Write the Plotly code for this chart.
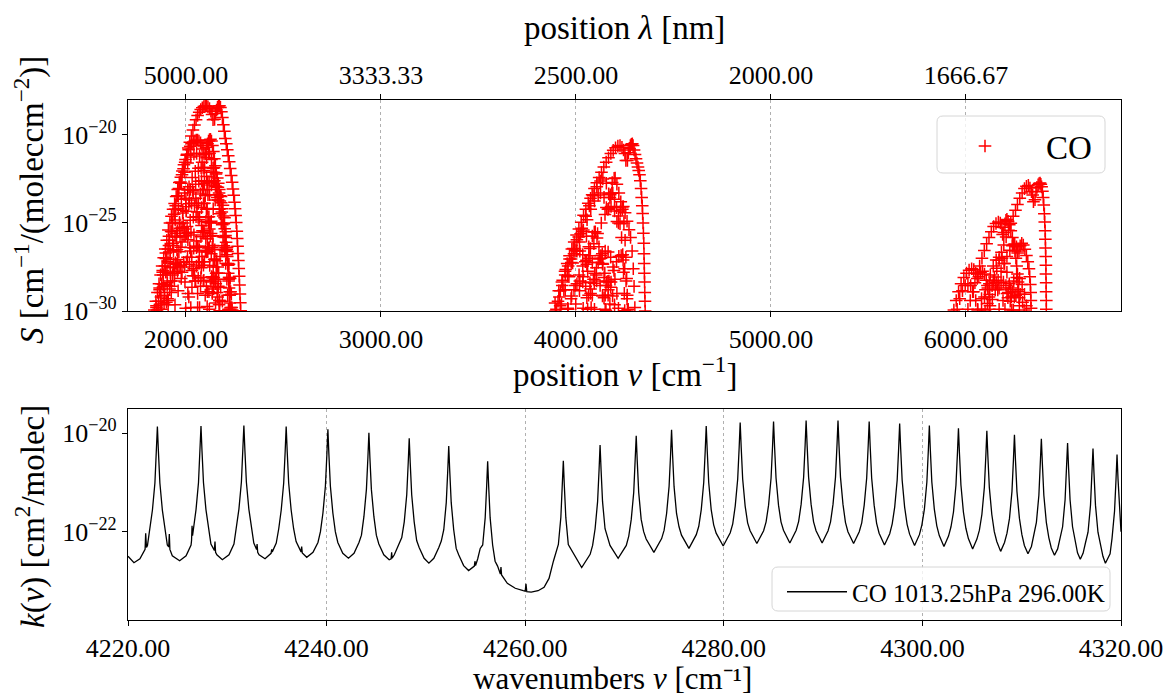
import plotly.graph_objects as go

# ---------------- DATA ----------------
# Top panel: line intensities, (position nu [cm-1], log10 S) pairs, one list per band envelope
r1_b1 = [(1852,-29.95),(1860,-29.45),(1868,-28.95),(1876,-28.45),(1884,-27.95),(1892,-27.45),(1900,-26.97),(1908,-26.48),(1916,-25.98),(1924,-25.49),(1932,-25.0),(1940,-24.5),(1948,-24.03),(1956,-23.45),(1964,-23.05),(1972,-22.67),(1980,-22.27),(1988,-21.92),(1996,-21.55),(2004,-21.15),(2012,-20.75),(2020,-20.42),(2028,-20.07),(2036,-19.73),(2044,-19.44),(2052,-19.14),(2060,-18.9),(2068,-18.71),(2076,-18.56),(2084,-18.46),(2092,-18.39),(2099,-18.36),(2106,-18.36),(2113,-18.41),(2121,-18.51),(2128,-18.66),(2134,-18.85),(2139,-19.14),
         (2147,-19.12),(2152,-18.79),(2157,-18.59),(2162,-18.44),(2167,-18.36),(2172,-18.34),(2177,-18.44),(2182,-18.69),(2187,-19.02),(2192,-19.42),(2197,-19.8),(2202,-20.2),(2207,-20.5),(2212,-20.84),(2217,-21.18),(2222,-21.53),(2227,-21.91),(2232,-22.3),(2237,-22.69),(2241,-23.08),(2245,-23.43),(2249,-23.82),(2252,-24.2),(2255,-24.58),(2258,-24.98),(2261,-25.47),(2263,-25.88),(2265,-26.33),(2267,-26.73),(2269,-27.13),(2271,-27.58),(2273,-28.03),(2275,-28.53),(2277,-29.03),(2279,-29.53),(2281,-29.98)]
r1_b2 = [(1838,-29.95),(1846,-29.45),(1854,-28.95),(1862,-28.45),(1870,-27.95),(1878,-27.45),(1886,-26.97),(1894,-26.48),(1902,-25.99),(1910,-25.4),(1918,-25.0),(1926,-24.62),(1934,-24.23),(1942,-23.9),(1950,-23.5),(1958,-23.1),(1966,-22.7),(1974,-22.4),(1982,-22.05),(1990,-21.7),(1998,-21.4),(2006,-21.1),(2014,-20.85),(2022,-20.65),(2030,-20.5),(2038,-20.4),(2046,-20.33),(2053,-20.3),(2060,-20.3),(2067,-20.35),(2075,-20.45),(2082,-20.6),(2088,-20.8),(2093,-21.1),
         (2101,-21.05),(2106,-20.7),(2111,-20.5),(2116,-20.35),(2121,-20.27),(2126,-20.25),(2131,-20.35),(2136,-20.6),(2141,-20.95),(2146,-21.35),(2151,-21.75),(2156,-22.15),(2161,-22.45),(2166,-22.75),(2171,-23.1),(2176,-23.45),(2181,-23.85),(2186,-24.2),(2191,-24.6),(2195,-25.0),(2199,-25.33),(2203,-25.72),(2206,-26.1),(2209,-26.5),(2212,-26.9),(2215,-27.4),(2217,-27.85),(2219,-28.3),(2221,-28.7),(2223,-29.1),(2225,-29.55),(2227,-29.98)]
r1_b3 = [(1849,-29.7),(1865,-28.7),(1881,-27.7),(1897,-26.7),(1913,-25.75),(1929,-24.97),(1945,-24.23),(1961,-23.45),(1977,-22.75),(1993,-22.12),(2009,-21.6),(2025,-21.25),(2041,-21.08),(2055,-21.05),(2070,-21.2),(2083,-21.55),(2088,-21.85),
         (2096,-21.85),(2106,-21.3),(2116,-21.07),(2121,-21.05),(2131,-21.4),(2141,-22.12),(2151,-22.9),(2161,-23.55),(2171,-24.23),(2181,-25.0),(2190,-25.78),(2198,-26.52),(2204,-27.3),(2210,-28.2),(2214,-29.1),(2218,-29.9)]
r1_b4 = [(1888,-29.55),(1904,-28.55),(1920,-27.55),(1936,-26.58),(1952,-25.8),(1968,-25.05),(1984,-24.28),(2000,-23.6),(2016,-22.95),(2032,-22.42),(2048,-22.07),(2064,-21.9),(2078,-21.87),(2093,-22.02),(2106,-22.37),(2111,-22.67),
         (2119,-22.67),(2129,-22.12),(2139,-21.89),(2144,-21.87),(2154,-22.22),(2164,-22.97),(2174,-23.75),(2184,-24.38),(2194,-25.05),(2204,-25.83),(2213,-26.62),(2221,-27.35),(2227,-28.15),(2233,-29.05),(2237,-29.95)]
r1_b5 = [(1906,-29.3),(1922,-28.3),(1938,-27.3),(1954,-26.52),(1970,-25.8),(1986,-25.0),(2002,-24.33),(2018,-23.7),(2034,-23.15),(2050,-22.8),(2066,-22.63),(2080,-22.6),(2095,-22.75),(2108,-23.1),(2113,-23.4),
         (2121,-23.4),(2131,-22.85),(2141,-22.62),(2146,-22.6),(2156,-22.95),(2166,-23.7),(2176,-24.48),(2186,-25.1),(2196,-25.8),(2206,-26.57),(2215,-27.35),(2223,-28.1),(2229,-28.9),(2235,-29.8)]
r1_b6 = [(1849,-29.8),(1865,-28.8),(1881,-27.8),(1897,-27.02),(1913,-26.28),(1929,-25.5),(1945,-24.83),(1961,-24.2),(1977,-23.65),(1993,-23.3),(2009,-23.13),(2023,-23.1),(2038,-23.25),(2051,-23.6),(2056,-23.9),
         (2064,-23.9),(2074,-23.35),(2084,-23.12),(2089,-23.1),(2099,-23.45),(2109,-24.18),(2119,-24.97),(2129,-25.6),(2139,-26.28),(2149,-27.05),(2158,-27.85),(2166,-28.6),(2172,-29.4)]
r1_b7 = [(1871,-29.6),(1887,-28.6),(1903,-27.8),(1919,-27.07),(1935,-26.28),(1951,-25.6),(1967,-24.97),(1983,-24.43),(1999,-24.08),(2015,-23.91),(2029,-23.88),(2044,-24.03),(2057,-24.38),(2062,-24.68),
         (2070,-24.68),(2080,-24.13),(2090,-23.9),(2095,-23.88),(2105,-24.23),(2115,-24.97),(2125,-25.75),(2135,-26.38),(2145,-27.07),(2155,-27.85),(2164,-28.65),(2172,-29.4)]
r1_b8 = [(1910,-29.4),(1926,-28.6),(1942,-27.85),(1958,-27.07),(1974,-26.38),(1990,-25.73),(2006,-25.2),(2022,-24.85),(2038,-24.68),(2052,-24.65),(2067,-24.8),(2080,-25.15),(2085,-25.45),
         (2093,-25.45),(2103,-24.9),(2113,-24.67),(2118,-24.65),(2128,-25.0),(2138,-25.73),(2148,-26.52),(2158,-27.15),(2168,-27.85),(2178,-28.65),(2187,-29.45)]
r1_b9 = [(1900,-29.5),(1916,-28.75),(1932,-27.95),(1948,-27.27),(1964,-26.63),(1980,-26.08),(1996,-25.73),(2012,-25.56),(2026,-25.53),(2041,-25.68),(2054,-26.03),(2059,-26.33),
         (2067,-26.33),(2077,-25.78),(2087,-25.55),(2092,-25.53),(2102,-25.88),(2112,-26.63),(2122,-27.42),(2132,-28.05),(2142,-28.75),(2152,-29.55)]
r1_b10 = [(1944,-29.65),(1960,-28.85),(1976,-28.15),(1992,-27.5),(2008,-26.95),(2024,-26.6),(2040,-26.43),(2054,-26.4),(2069,-26.55),(2082,-26.9),(2087,-27.2),
          (2095,-27.2),(2105,-26.65),(2115,-26.42),(2120,-26.4),(2130,-26.75),(2140,-27.5),(2150,-28.3),(2160,-28.95),(2170,-29.65)]
r1_b11 = [(1909,-29.65),(1925,-28.95),(1941,-28.3),(1957,-27.75),(1973,-27.4),(1989,-27.23),(2003,-27.2),(2018,-27.35),(2031,-27.7),(2036,-28.0),
          (2044,-28.0),(2054,-27.45),(2064,-27.22),(2069,-27.2),(2079,-27.55),(2089,-28.3),(2099,-29.1),(2109,-29.75)]
r1_b12 = [(1999,-29.85),(2015,-29.2),(2031,-28.65),(2047,-28.3),(2063,-28.13),(2077,-28.1),(2092,-28.25),(2105,-28.6),(2110,-28.9),
          (2118,-28.9),(2128,-28.35),(2138,-28.12),(2143,-28.1),(2153,-28.45),(2163,-29.2),(2173,-29.98)]
r1_b13 = [(1860,-29.9),(1872,-29.2),(1884,-28.5),(1896,-27.8),(1908,-27.2),(1920,-26.65),(1932,-26.15),(1944,-25.75),(1956,-25.45),(1968,-25.3),(1980,-25.25),(1992,-25.35),(2002,-25.6),(2010,-25.95),(2020,-26.4),(2030,-26.95),(2040,-27.6),(2050,-28.3),(2060,-29.0),(2070,-29.8)]
r1_b14 = [(1875,-29.9),(1890,-29.1),(1905,-28.4),(1920,-27.85),(1935,-27.5),(1950,-27.35),(1965,-27.45),(1980,-27.8),(1995,-28.35),(2010,-29.0),(2025,-29.8)]
r1_b15 = [(2120,-29.9),(2135,-29.0),(2150,-28.2),(2163,-27.5),(2175,-26.9),(2185,-26.5),(2195,-26.3),(2203,-26.4),(2210,-26.8),(2216,-27.4),(2221,-28.1),(2225,-28.9),(2229,-29.8)]
r1_b16 = [(2060,-29.8),(2075,-28.6),(2090,-27.4),(2100,-26.6),(2110,-25.9),(2120,-25.35),(2130,-24.9),(2140,-24.2),(2150,-23.7),(2160,-23.4),(2170,-23.3),(2180,-23.5),(2190,-24.0),(2198,-24.7),(2205,-25.5),(2211,-26.4),(2216,-27.3),(2220,-28.2),(2224,-29.1),(2227,-29.9)]

r2_b1 = [(3895,-30.0),(3908,-29.45),(3920,-28.85),(3932,-28.25),(3944,-27.75),(3955,-27.3),(3967,-26.87),(3979,-26.48),(3991,-26.08),(4003,-25.69),(4015,-25.35),(4027,-24.96),(4039,-24.57),(4051,-24.23),(4063,-23.88),(4075,-23.6),(4083,-23.4),(4095,-23.05),(4107,-22.72),(4119,-22.42),(4131,-22.12),(4143,-21.82),(4155,-21.55),(4167,-21.3),(4179,-21.06),(4191,-20.88),(4203,-20.73),(4215,-20.64),(4226,-20.61),(4236,-20.71),(4244,-20.86),(4251,-21.06),(4256,-21.45),
         (4264,-21.45),(4269,-21.01),(4274,-20.76),(4279,-20.61),(4284,-20.53),(4289,-20.51),(4293,-20.61),(4298,-20.86),(4303,-21.11),(4308,-21.36),(4313,-21.6),(4318,-21.83),(4322,-22.02),(4326,-22.27),(4330,-22.6),(4334,-23.05),(4337,-23.55),(4340,-24.03),(4342,-24.47),(4344,-25.0),(4346,-25.58),(4348,-26.15),(4349,-26.75),(4350,-27.3),(4351,-27.85),(4352,-28.35),(4353,-28.95),(4354,-29.45),(4355,-30.0)]
r2_b2 = [(3919,-29.7),(3938,-28.8),(3957,-28.0),(3976,-27.25),(3995,-26.48),(4014,-25.8),(4030,-25.3),(4050,-24.62),(4069,-24.03),(4088,-23.45),(4107,-22.95),(4126,-22.62),(4138,-22.5),(4156,-22.75),(4168,-23.35),
         (4176,-23.4),(4186,-22.7),(4196,-22.47),(4201,-22.45),(4210,-22.8),(4220,-23.3),(4230,-23.8),(4238,-24.23),(4246,-25.0),(4252,-25.98),(4256,-26.95),(4260,-28.15),(4262,-29.3),(4264,-29.95)]
r2_b3 = [(3926,-29.6),(3945,-28.8),(3964,-28.05),(3983,-27.27),(4002,-26.58),(4018,-26.08),(4038,-25.4),(4057,-24.82),(4076,-24.23),(4095,-23.75),(4114,-23.42),(4126,-23.3),(4144,-23.55),(4156,-24.13),
         (4164,-24.23),(4174,-23.55),(4184,-23.32),(4189,-23.3),(4198,-23.65),(4208,-24.13),(4218,-24.6),(4226,-25.05),(4234,-25.83),(4240,-26.8),(4244,-27.8),(4248,-29.0),(4250,-29.98)]
r2_b4 = [(3999,-29.6),(4018,-28.85),(4037,-28.05),(4056,-27.35),(4072,-26.87),(4092,-26.18),(4111,-25.6),(4130,-25.0),(4149,-24.52),(4168,-24.19),(4180,-24.07),(4198,-24.32),(4210,-24.92),
         (4218,-25.0),(4228,-24.32),(4238,-24.09),(4243,-24.07),(4252,-24.42),(4262,-24.9),(4272,-25.38),(4280,-25.82),(4288,-26.6),(4294,-27.6),(4298,-28.6),(4302,-29.8)]
r2_b5 = [(3893,-29.55),(3912,-28.85),(3928,-28.35),(3948,-27.65),(3967,-27.05),(3986,-26.45),(4005,-25.95),(4024,-25.62),(4036,-25.5),(4054,-25.75),(4066,-26.35),
         (4074,-26.45),(4084,-25.75),(4094,-25.52),(4099,-25.5),(4108,-25.85),(4118,-26.35),(4128,-26.85),(4136,-27.3),(4144,-28.1),(4150,-29.1),(4154,-29.98)]
r2_b6 = [(3958,-29.85),(3978,-29.15),(3997,-28.55),(4016,-27.95),(4035,-27.45),(4054,-27.12),(4066,-27.0),(4084,-27.25),(4096,-27.85),
         (4104,-27.95),(4114,-27.25),(4124,-27.02),(4129,-27.0),(4138,-27.35),(4148,-27.85),(4158,-28.35),(4166,-28.8),(4174,-29.6)]
r2_b7 = [(4037,-29.85),(4056,-29.25),(4075,-28.75),(4094,-28.42),(4106,-28.3),(4124,-28.55),(4136,-29.15),
         (4144,-29.25),(4154,-28.55),(4164,-28.32),(4169,-28.3),(4178,-28.65),(4188,-29.15),(4198,-29.65)]
r2_b8 = [(3900,-29.9),(3915,-29.2),(3930,-28.55),(3945,-27.95),(3960,-27.45),(3975,-27.05),(3990,-26.75),(4005,-26.6),(4020,-26.6),(4035,-26.8),(4048,-27.2),(4060,-27.75),(4072,-28.4),(4084,-29.1),(4095,-29.9)]
r2_b9 = [(3960,-29.9),(3975,-29.3),(3990,-28.8),(4005,-28.45),(4020,-28.3),(4035,-28.35),(4050,-28.6),(4065,-29.1),(4078,-29.8)]
r2_b10 = [(4150,-29.9),(4165,-29.1),(4180,-28.35),(4195,-27.7),(4208,-27.2),(4220,-26.9),(4232,-26.85),(4242,-27.1),(4250,-27.6),(4257,-28.3),(4263,-29.1),(4268,-29.9)]
r2_b11 = [(4060,-29.9),(4075,-29.0),(4090,-28.2),(4105,-27.55),(4120,-27.05),(4135,-26.75),(4150,-26.6),(4165,-26.65),(4178,-26.95),(4190,-27.5),(4200,-28.2),(4210,-29.0),(4218,-29.85)]

r3_b1 = [(6098,-30.0),(6110,-29.57),(6122,-29.07),(6134,-28.57),(6146,-28.07),(6158,-27.57),(6170,-27.12),(6182,-26.67),(6194,-26.25),(6206,-25.8),(6218,-25.42),(6230,-25.02),(6242,-24.62),(6254,-24.28),(6264,-23.95),(6276,-23.6),(6288,-23.3),(6300,-23.05),(6310,-22.92),(6320,-22.87),(6328,-23.02),(6336,-23.22),(6342,-23.42),(6346,-23.8),
         (6354,-23.68),(6359,-23.23),(6364,-22.98),(6370,-22.83),(6375,-22.76),(6380,-22.73),(6384,-22.8),(6388,-22.95),(6392,-23.2),(6396,-23.55),(6399,-23.98),(6402,-24.48),(6404,-24.95),(6406,-25.45),(6407,-25.93),(6408,-26.43),(6409,-26.9),(6410,-27.4),(6410,-27.9),(6411,-28.4),(6411,-28.9),(6412,-29.4),(6412,-29.9)]
r3_b2 = [(6010,-29.9),(6022,-29.4),(6034,-28.9),(6046,-28.4),(6058,-27.9),(6070,-27.45),(6082,-27.0),(6094,-26.57),(6106,-26.18),(6118,-25.83),(6130,-25.5),(6142,-25.2),(6154,-25.03),(6166,-24.95),(6176,-25.0),(6184,-25.25),(6188,-25.65),
         (6194,-25.55),(6200,-25.05),(6205,-24.85),(6210,-24.8),(6216,-24.9),(6222,-25.1),(6230,-25.45),(6238,-25.83),(6245,-26.22),(6251,-26.6),(6256,-27.0),(6260,-27.45),(6264,-27.9),(6267,-28.35),(6270,-28.8),(6272,-29.25),(6274,-29.7)]
r3_b3 = [(6120,-29.9),(6135,-29.35),(6150,-28.8),(6165,-28.25),(6180,-27.75),(6195,-27.3),(6210,-26.9),(6225,-26.55),(6238,-26.3),(6250,-26.2),(6259,-26.35),(6265,-26.7),
         (6272,-26.6),(6278,-26.3),(6286,-26.15),(6294,-26.25),(6302,-26.5),(6310,-26.85),(6317,-27.2),(6323,-27.6),(6327,-28.05),(6330,-28.5),(6332,-28.95),(6333,-29.4),(6334,-29.85)]
r3_b4 = [(5938,-29.95),(5950,-29.4),(5962,-28.9),(5975,-28.45),(5989,-28.1),(6003,-27.85),(6016,-27.68),(6029,-27.6),(6040,-27.65),(6050,-27.85),(6058,-28.15),
         (6066,-28.05),(6075,-27.8),(6085,-27.75),(6095,-27.9),(6104,-28.25),(6112,-28.7),(6118,-29.2),(6123,-29.7)]
r3_b5 = [(6060,-29.9),(6080,-29.3),(6100,-28.8),(6120,-28.45),(6140,-28.3),(6155,-28.4),(6163,-28.8),
         (6170,-28.7),(6180,-28.4),(6192,-28.35),(6205,-28.55),(6217,-28.95),(6227,-29.45),(6235,-29.95)]
r3_b6 = [(6170,-29.9),(6190,-29.4),(6210,-29.0),(6228,-28.8),(6240,-28.9),(6248,-29.2),
         (6256,-29.1),(6266,-28.9),(6278,-29.05),(6290,-29.5),(6298,-29.95)]
r3_b7 = [(5955,-29.9),(5968,-29.3),(5982,-28.85),(5996,-28.55),(6010,-28.45),(6024,-28.55),(6038,-28.9),(6050,-29.4),(6060,-29.95)]
r3_b8 = [(6080,-29.9),(6095,-29.2),(6110,-28.55),(6125,-27.95),(6140,-27.45),(6155,-27.1),(6170,-26.95),(6185,-27.0),(6198,-27.3),(6210,-27.8),(6222,-28.45),(6233,-29.2),(6243,-29.95)]
r3_b9 = [(6200,-29.9),(6215,-29.25),(6230,-28.7),(6245,-28.3),(6260,-28.1),(6275,-28.15),(6288,-28.5),(6300,-29.05),(6310,-29.7)]

# Bottom panel: absorption cross section, (wavenumber nu [cm-1], log10 k) pairs
k_spec = [(4220.0,-22.50),(4220.6,-22.63),(4221.2,-22.55),(4221.6,-22.42),(4221.72,-22.36),(4221.78,-22.03),(4221.86,-22.32),
    (4221.96,-22.28),(4222.21,-21.94),(4222.46,-21.56),(4222.71,-21.01),(4222.86,-20.36),(4222.96,-19.86),(4223.06,-20.36),(4223.21,-21.01),(4223.46,-21.56),(4223.71,-21.94),(4223.96,-22.27),
    (4224.10,-22.31),(4224.16,-22.05),(4224.22,-22.36),(4224.46,-22.49),(4225.20,-22.59),
    (4225.85,-22.49),(4226.35,-22.27),(4226.40,-22.18),(4226.45,-21.88),(4226.50,-22.08),(4226.60,-21.93),(4226.85,-21.55),(4227.10,-21.00),(4227.25,-20.35),(4227.35,-19.85),(4227.45,-20.35),(4227.60,-21.00),(4227.85,-21.55),(4228.10,-21.93),(4228.35,-22.25),
    (4228.70,-22.38),(4228.76,-22.20),(4228.82,-22.42),(4228.95,-22.47),(4229.50,-22.57),
    (4230.17,-22.47),(4230.67,-22.25),(4230.92,-21.92),(4231.17,-21.54),(4231.42,-20.99),(4231.57,-20.34),(4231.67,-19.84),(4231.77,-20.34),(4231.92,-20.99),(4232.17,-21.54),(4232.42,-21.92),(4232.67,-22.23),
    (4232.95,-22.36),(4233.00,-22.25),(4233.06,-22.42),(4233.20,-22.47),(4233.80,-22.55),
    (4234.30,-22.47),(4234.41,-22.44),(4234.47,-22.36),(4234.53,-22.41),(4234.93,-22.23),(4235.18,-21.94),(4235.43,-21.56),(4235.68,-21.01),(4235.83,-20.36),(4235.93,-19.86),(4236.03,-20.36),(4236.18,-21.01),(4236.43,-21.56),(4236.68,-21.94),(4236.93,-22.20),
    (4237.30,-22.36),(4237.43,-22.41),(4237.49,-22.30),(4237.55,-22.43),(4238.00,-22.52),
    (4238.63,-22.42),(4239.13,-22.22),(4239.38,-22.00),(4239.63,-21.62),(4239.88,-21.07),(4240.03,-20.42),(4240.13,-19.92),(4240.23,-20.42),(4240.38,-21.07),(4240.63,-21.62),(4240.88,-22.00),(4241.13,-22.22),(4241.63,-22.44),(4242.20,-22.54),
    (4242.76,-22.44),(4243.26,-22.22),(4243.51,-22.07),(4243.76,-21.69),(4244.01,-21.14),(4244.16,-20.49),(4244.26,-19.99),(4244.36,-20.49),(4244.51,-21.14),(4244.76,-21.69),(4245.01,-22.07),(4245.26,-22.25),(4245.76,-22.47),(4246.30,-22.57),
    (4246.50,-22.55),(4246.55,-22.42),(4246.60,-22.54),(4246.82,-22.47),(4247.32,-22.25),(4247.57,-22.12),(4247.82,-21.80),(4248.07,-21.25),(4248.22,-20.60),(4248.32,-20.10),(4248.42,-20.60),(4248.57,-21.25),(4248.82,-21.80),(4249.07,-22.18),(4249.32,-22.32),(4249.82,-22.54),(4250.30,-22.64),
    (4250.80,-22.54),(4251.30,-22.32),(4251.55,-22.19),(4251.80,-21.96),(4252.05,-21.41),(4252.20,-20.76),(4252.30,-20.26),(4252.40,-20.76),(4252.55,-21.41),(4252.80,-21.96),(4253.05,-22.34),(4253.30,-22.47),(4253.80,-22.69),(4254.30,-22.79),
    (4254.70,-22.74),(4254.88,-22.70),(4254.94,-22.60),(4255.00,-22.69),(4255.22,-22.55),(4255.47,-22.34),(4255.72,-22.27),(4255.97,-21.72),(4256.12,-21.07),(4256.22,-20.57),(4256.32,-21.07),(4256.47,-21.72),(4256.72,-22.27),(4256.97,-22.60),(4257.22,-22.70),
    (4257.50,-22.86),(4257.56,-22.72),(4257.62,-22.88),(4258.20,-23.05),(4259.00,-23.15),(4259.80,-23.20),(4260.00,-23.21),(4260.08,-23.06),(4260.16,-23.22),(4260.60,-23.23),(4261.30,-23.20),(4261.90,-23.13),(4262.40,-22.95),
    (4262.84,-22.60),(4263.09,-22.45),(4263.34,-22.26),(4263.59,-21.71),(4263.74,-21.06),(4263.84,-20.56),(4263.94,-21.06),(4264.09,-21.71),(4264.34,-22.26),(4264.59,-22.35),(4264.84,-22.45),(4265.69,-22.73),
    (4266.54,-22.46),(4266.79,-22.28),(4267.04,-21.94),(4267.29,-21.39),(4267.44,-20.74),(4267.54,-20.24),(4267.64,-20.74),(4267.79,-21.39),(4268.04,-21.94),(4268.29,-22.12),(4268.54,-22.28),(4269.36,-22.54),
    (4270.18,-22.28),(4270.43,-22.09),(4270.68,-21.75),(4270.93,-21.20),(4271.08,-20.55),(4271.18,-20.05),(4271.28,-20.55),(4271.43,-21.20),(4271.68,-21.75),(4271.93,-22.00),(4272.18,-22.15),(4272.96,-22.42),
    (4273.74,-22.14),(4273.99,-21.97),(4274.24,-21.63),(4274.49,-21.08),(4274.64,-20.43),(4274.74,-19.93),(4274.84,-20.43),(4274.99,-21.08),(4275.24,-21.63),(4275.49,-21.90),(4275.74,-22.07),(4276.49,-22.34),
    (4277.23,-22.06),(4277.48,-21.89),(4277.73,-21.55),(4277.98,-21.00),(4278.13,-20.35),(4278.23,-19.85),(4278.33,-20.35),(4278.48,-21.00),(4278.73,-21.55),(4278.98,-21.86),(4279.23,-22.03),(4279.94,-22.29),
    (4280.65,-22.02),(4280.90,-21.84),(4281.15,-21.48),(4281.40,-20.93),(4281.55,-20.28),(4281.65,-19.78),(4281.75,-20.28),(4281.90,-20.93),(4282.15,-21.48),(4282.40,-21.82),(4282.65,-21.98),(4283.33,-22.24),
    (4284.01,-21.98),(4284.26,-21.80),(4284.51,-21.46),(4284.76,-20.91),(4284.91,-20.26),(4285.01,-19.76),(4285.11,-20.26),(4285.26,-20.91),(4285.51,-21.46),(4285.76,-21.80),(4286.01,-21.97),(4286.65,-22.23),
    (4287.29,-21.97),(4287.54,-21.79),(4287.79,-21.44),(4288.04,-20.89),(4288.19,-20.24),(4288.29,-19.74),(4288.39,-20.24),(4288.54,-20.89),(4288.79,-21.44),(4289.04,-21.80),(4289.29,-21.98),(4289.90,-22.23),
    (4290.50,-21.98),(4290.75,-21.80),(4291.00,-21.44),(4291.25,-20.89),(4291.40,-20.24),(4291.50,-19.74),(4291.60,-20.24),(4291.75,-20.89),(4292.00,-21.44),(4292.25,-21.81),(4292.50,-22.00),(4293.07,-22.24),
    (4293.64,-22.00),(4293.89,-21.82),(4294.14,-21.46),(4294.39,-20.91),(4294.54,-20.26),(4294.64,-19.76),(4294.74,-20.26),(4294.89,-20.91),(4295.14,-21.46),(4295.39,-21.83),(4295.64,-22.03),(4296.18,-22.27),
    (4296.71,-22.04),(4296.96,-21.84),(4297.21,-21.50),(4297.46,-20.95),(4297.61,-20.30),(4297.71,-19.80),(4297.81,-20.30),(4297.96,-20.95),(4298.21,-21.50),(4298.46,-21.85),(4298.71,-22.05),(4299.21,-22.28),
    (4299.70,-22.06),(4299.95,-21.86),(4300.20,-21.54),(4300.45,-20.99),(4300.60,-20.34),(4300.70,-19.84),(4300.80,-20.34),(4300.95,-20.99),(4301.20,-21.54),(4301.45,-21.88),(4301.70,-22.08),(4302.17,-22.30),
    (4302.63,-22.09),(4302.88,-21.90),(4303.13,-21.60),(4303.38,-21.05),(4303.53,-20.40),(4303.63,-19.90),(4303.73,-20.40),(4303.88,-21.05),(4304.13,-21.60),(4304.38,-21.93),(4304.63,-22.14),(4305.06,-22.35),
    (4305.49,-22.15),(4305.74,-21.97),(4305.99,-21.65),(4306.24,-21.10),(4306.39,-20.45),(4306.49,-19.95),(4306.59,-20.45),(4306.74,-21.10),(4306.99,-21.65),(4307.24,-22.00),(4307.49,-22.20),(4307.88,-22.40),
    (4308.27,-22.22),(4308.52,-22.03),(4308.77,-21.73),(4309.02,-21.18),(4309.17,-20.53),(4309.27,-20.03),(4309.37,-20.53),(4309.52,-21.18),(4309.77,-21.73),(4310.02,-22.06),(4310.27,-22.28),(4310.63,-22.45),
    (4310.98,-22.30),(4311.23,-22.08),(4311.48,-21.81),(4311.73,-21.26),(4311.88,-20.61),(4311.98,-20.11),(4312.08,-20.61),(4312.23,-21.26),(4312.48,-21.81),(4312.73,-22.12),(4312.98,-22.33),(4313.30,-22.48),
    (4313.62,-22.35),(4313.87,-22.15),(4314.12,-21.90),(4314.37,-21.35),(4314.52,-20.70),(4314.62,-20.20),(4314.72,-20.70),(4314.87,-21.35),(4315.12,-21.90),(4315.37,-22.20),(4315.62,-22.43),(4315.90,-22.56),
    (4316.18,-22.44),(4316.43,-22.22),(4316.68,-22.01),(4316.93,-21.46),(4317.08,-20.81),(4317.18,-20.31),(4317.28,-20.81),(4317.43,-21.46),(4317.68,-22.01),(4317.93,-22.28),(4318.18,-22.50),(4318.43,-22.64),
    (4318.90,-22.45),(4319.10,-22.13),(4319.35,-21.58),(4319.50,-20.93),(4319.60,-20.43),(4319.70,-20.93),(4319.85,-21.58),(4320.0,-22.00)]

top_tickvals = [2000, 3000, 4000, 5000, 6000]
top_ticktext = ["2000.00", "3000.00", "4000.00", "5000.00", "6000.00"]
lam_ticktext = ["5000.00", "3333.33", "2500.00", "2000.00", "1666.67"]
top_ytickvals = [1e-30, 1e-25, 1e-20]
top_yticktext = ["10<sup>\u221230</sup>", "10<sup>\u221225</sup>", "10<sup>\u221220</sup>"]
bot_tickvals = [4220, 4240, 4260, 4280, 4300, 4320]
bot_ticktext = ["4220.00", "4240.00", "4260.00", "4280.00", "4300.00", "4320.00"]
bot_ytickvals = [1e-22, 1e-20]
bot_yticktext = ["10<sup>\u221222</sup>", "10<sup>\u221220</sup>"]

top_bands = [r1_b1, r1_b2, r1_b3, r1_b4, r1_b5, r1_b6, r1_b7, r1_b8, r1_b9, r1_b10, r1_b11, r1_b12,
             r1_b13, r1_b14, r1_b15, r1_b16,
             r2_b1, r2_b2, r2_b3, r2_b4, r2_b5, r2_b6, r2_b7, r2_b8, r2_b9, r2_b10, r2_b11,
             r3_b1, r3_b2, r3_b3, r3_b4, r3_b5, r3_b6, r3_b7, r3_b8, r3_b9]

nu_top = [p[0] for b in top_bands for p in b]
S_top = [10 ** p[1] for b in top_bands for p in b]
nu_k = [p[0] for p in k_spec]
k_val = [10 ** p[1] for p in k_spec]

# ---------------- FIGURE ----------------
W, H = 1174, 697
def px(x):
    return x / W
def py(y):
    return 1 - y / H

FONT = "Liberation Serif"
TICKFONT = dict(family=FONT, size=26, color="black")
TITLEFONT = dict(family=FONT, size=33, color="black")

fig = go.Figure()
fig.add_trace(go.Scatter(
    x=nu_top, y=S_top, mode="markers", name="CO",
    marker=dict(symbol="cross-thin", size=9, color="red", line=dict(color="red", width=1.5)),
    xaxis="x", yaxis="y", legend="legend", hoverinfo="skip"))
fig.add_trace(go.Scatter(x=[], y=[], xaxis="x3", yaxis="y", showlegend=False, hoverinfo="skip"))
fig.add_trace(go.Scatter(
    x=nu_k, y=k_val, mode="lines", name="CO 1013.25hPa 296.00K",
    line=dict(color="black", width=1.3),
    xaxis="x2", yaxis="y2", legend="legend2", hoverinfo="skip"))

common = dict(showline=True, linecolor="black", linewidth=1.3, ticks="outside", ticklen=5,
              tickwidth=1.1, tickcolor="black", tickfont=TICKFONT, zeroline=False, automargin=False)
xdom = [px(128), px(1121)]

fig.update_layout(
    template="none",
    width=W, height=H, margin=dict(l=0, r=0, t=0, b=0, pad=0, autoexpand=False),
    paper_bgcolor="white", plot_bgcolor="white",
    font=dict(family=FONT, color="black"),
    xaxis=dict(domain=xdom, range=[1703, 6795], anchor="y", tickmode="array",
               tickvals=top_tickvals, ticktext=top_ticktext, mirror=True,
               showgrid=True, gridcolor="#b0b0b0", griddash="dot", gridwidth=1, **common),
    xaxis3=dict(overlaying="x", side="top", anchor="y", range=[1703, 6795], tickmode="array",
                tickvals=top_tickvals, ticktext=lam_ticktext, showgrid=False, showline=False,
                ticks="outside", ticklen=5, tickwidth=1.1, tickcolor="black", tickfont=TICKFONT,
                zeroline=False, automargin=False),
    yaxis=dict(domain=[py(311), py(100)], type="log", range=[-30, -18.02], anchor="x",
               tickmode="array", tickvals=top_ytickvals, ticktext=top_yticktext,
               mirror=True, showgrid=False, **common),
    xaxis2=dict(domain=xdom, range=[4220, 4320], anchor="y2", tickmode="array",
                tickvals=bot_tickvals, ticktext=bot_ticktext, mirror=True,
                showgrid=True, gridcolor="#b0b0b0", griddash="dot", gridwidth=1, **common),
    yaxis2=dict(domain=[py(620), py(409)], type="log", range=[-23.795, -19.506], anchor="x2",
                tickmode="array", tickvals=bot_ytickvals, ticktext=bot_yticktext,
                mirror=True, showgrid=False, **common),
    legend=dict(x=px(924), y=py(118), xanchor="left", yanchor="top", bgcolor="rgba(0,0,0,0)",
                borderwidth=0, font=dict(family=FONT, size=33, color="black"), itemwidth=112),
    legend2=dict(x=px(782), y=py(569), xanchor="left", yanchor="top", bgcolor="rgba(0,0,0,0)",
                 borderwidth=0, font=dict(family=FONT, size=25, color="black"), itemwidth=60),
    showlegend=True,
)

def rounded_box(x0, y0, x1, y1, r=6):
    X0, X1 = px(x0), px(x1)
    Yt, Yb = py(y0), py(y1)
    rx, ry = r / W, r / H
    return (f"M {X0+rx},{Yt} L {X1-rx},{Yt} Q {X1},{Yt} {X1},{Yt-ry} "
            f"L {X1},{Yb+ry} Q {X1},{Yb} {X1-rx},{Yb} L {X0+rx},{Yb} "
            f"Q {X0},{Yb} {X0},{Yb+ry} L {X0},{Yt-ry} Q {X0},{Yt} {X0+rx},{Yt} Z")

for box in [(937, 116, 1105, 173), (772, 567, 1110, 611)]:
    fig.add_shape(type="path", path=rounded_box(*box), xref="paper", yref="paper",
                  line=dict(color="#d6d6d6", width=1), fillcolor="rgba(255,255,255,0.8)", layer="above")

annots = [
    dict(text="position <i>\u03bb</i> [nm]", x=px(624.5), y=py(28), yanchor="middle", textangle=0, font=TITLEFONT),
    dict(text="position <i>\u03bd</i> [cm<sup>\u22121</sup>]", x=px(624.5), y=py(372), yanchor="middle", textangle=0, font=TITLEFONT),
    dict(text="wavenumbers <i>\u03bd</i> [cm\u207b\u00b9]", x=px(612), y=py(697), yanchor="bottom", textangle=0,
         font=dict(family=FONT, size=31, color="black")),
    dict(text="<i>S</i> [cm<sup>\u22121</sup>/(moleccm<sup>\u22122</sup>)]", x=px(30), y=py(200), yanchor="middle", textangle=-90, font=TITLEFONT),
    dict(text="<i>k</i>(<i>\u03bd</i>) [cm<sup>2</sup>/molec]", x=px(30), y=py(517), yanchor="middle", textangle=-90, font=TITLEFONT),
]
for a in annots:
    fig.add_annotation(xref="paper", yref="paper", showarrow=False, xanchor="center",
                       borderpad=0, **a)

fig.write_html("out.html")
